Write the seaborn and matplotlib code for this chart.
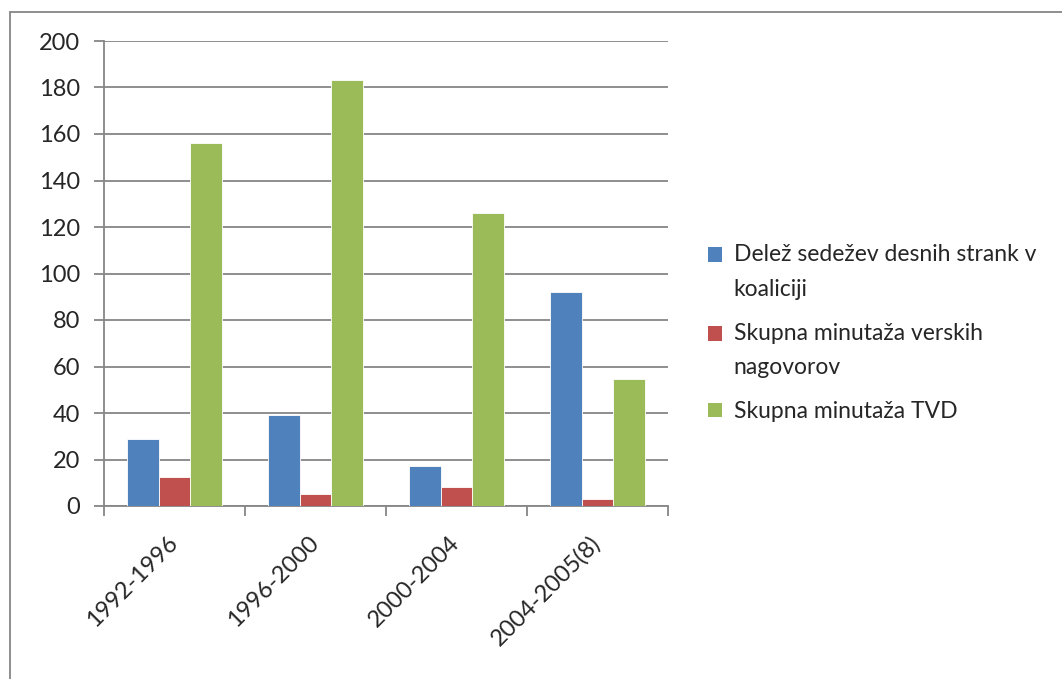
import matplotlib
matplotlib.use("Agg")
import matplotlib.pyplot as plt
import matplotlib.patches as mpatches
from matplotlib.legend_handler import HandlerPatch
import seaborn as sns
import pandas as pd

periods = ["1992-1996", "1996-2000", "2000-2004", "2004-2005(8)"]
series_names = ["Delež sedežev desnih strank v\nkoaliciji",
                "Skupna minutaža verskih\nnagovorov",
                "Skupna minutaža TVD"]
delez = [29, 39, 17, 92]
verski = [12.3, 5.2, 8, 3.2]
tvd = [156, 183.2, 126, 54.5]
colors = ["#4F81BD", "#C0504D", "#9BBB59"]
yticks = [0, 20, 40, 60, 80, 100, 120, 140, 160, 180, 200]

rows = []
for name, vals in zip(series_names, [delez, verski, tvd]):
    for p, v in zip(periods, vals):
        rows.append({"period": p, "series": name, "value": v})
df = pd.DataFrame(rows)

sns.set_style("white")
plt.rcParams["font.family"] = ["Lato", "DejaVu Sans"]

grey = "#868686"
fig = plt.figure(figsize=(10.62, 6.79), dpi=100)
ax = fig.add_axes([104/1062, 1-506/679, (668-104)/1062, (506-41)/679])

sns.barplot(data=df, x="period", y="value", hue="series", palette=colors,
            width=0.667, ax=ax, edgecolor="white", linewidth=0.6,
            saturation=1, errorbar=None, zorder=3)

ax.set_xlim(-0.5, 3.5)
ax.set_ylim(0, 200)
ax.set_yticks(yticks)
ax.set_yticklabels([str(t) for t in yticks])
ax.set_xlabel("")
ax.set_ylabel("")
ax.grid(axis="y", color=grey, linewidth=1.3, zorder=0)
ax.set_axisbelow(True)
for s in ["top", "right"]:
    ax.spines[s].set_visible(False)
for s in ["left", "bottom"]:
    ax.spines[s].set_color(grey)
    ax.spines[s].set_linewidth(1.3)

ax.tick_params(axis="y", which="major", length=7, width=1.3, color=grey,
               labelsize=17, pad=10, direction="out", left=True)
ax.set_xticks([-0.5, 0.5, 1.5, 2.5, 3.5], minor=True)
ax.tick_params(axis="x", which="minor", length=7, width=1.3, color=grey,
               direction="out", bottom=True)
ax.tick_params(axis="x", which="major", length=0, labelsize=17, pad=24)
for lab in ax.get_xticklabels():
    lab.set_rotation(45)
    lab.set_ha("right")
    lab.set_va("center")
    lab.set_rotation_mode("anchor")


class FirstLineHandler(HandlerPatch):
    def __init__(self, shift, color):
        super().__init__()
        self.shift = shift
        self.color = color

    def create_artists(self, legend, orig_handle, xdescent, ydescent,
                       width, height, fontsize, trans):
        p = mpatches.Rectangle((-xdescent, -ydescent + self.shift),
                               width, height, facecolor=self.color,
                               edgecolor="none", transform=trans)
        return [p]


handles, labels = ax.get_legend_handles_labels()
if ax.get_legend():
    ax.get_legend().remove()
hmap = {}
for h, lab, c in zip(handles, labels, colors):
    shift = 12.6 if "\n" in lab else 0.0
    hmap[h] = FirstLineHandler(shift, c)
leg = fig.legend(handles, labels, loc="center left",
                 bbox_to_anchor=(708/1062, 1-333/679), frameon=False,
                 fontsize=16.5, handlelength=0.62, handleheight=0.62,
                 handletextpad=0.5, labelspacing=1.0, borderpad=0,
                 borderaxespad=0, handler_map=hmap)
for t in leg.get_texts():
    t.set_linespacing(1.8)

border = mpatches.Rectangle((10/1062, -0.1), 1.2, (1-12/679) + 0.1,
                            transform=fig.transFigure, fill=False,
                            edgecolor=grey, linewidth=1.3)
fig.patches.append(border)

fig.savefig("out.png", dpi=100)
